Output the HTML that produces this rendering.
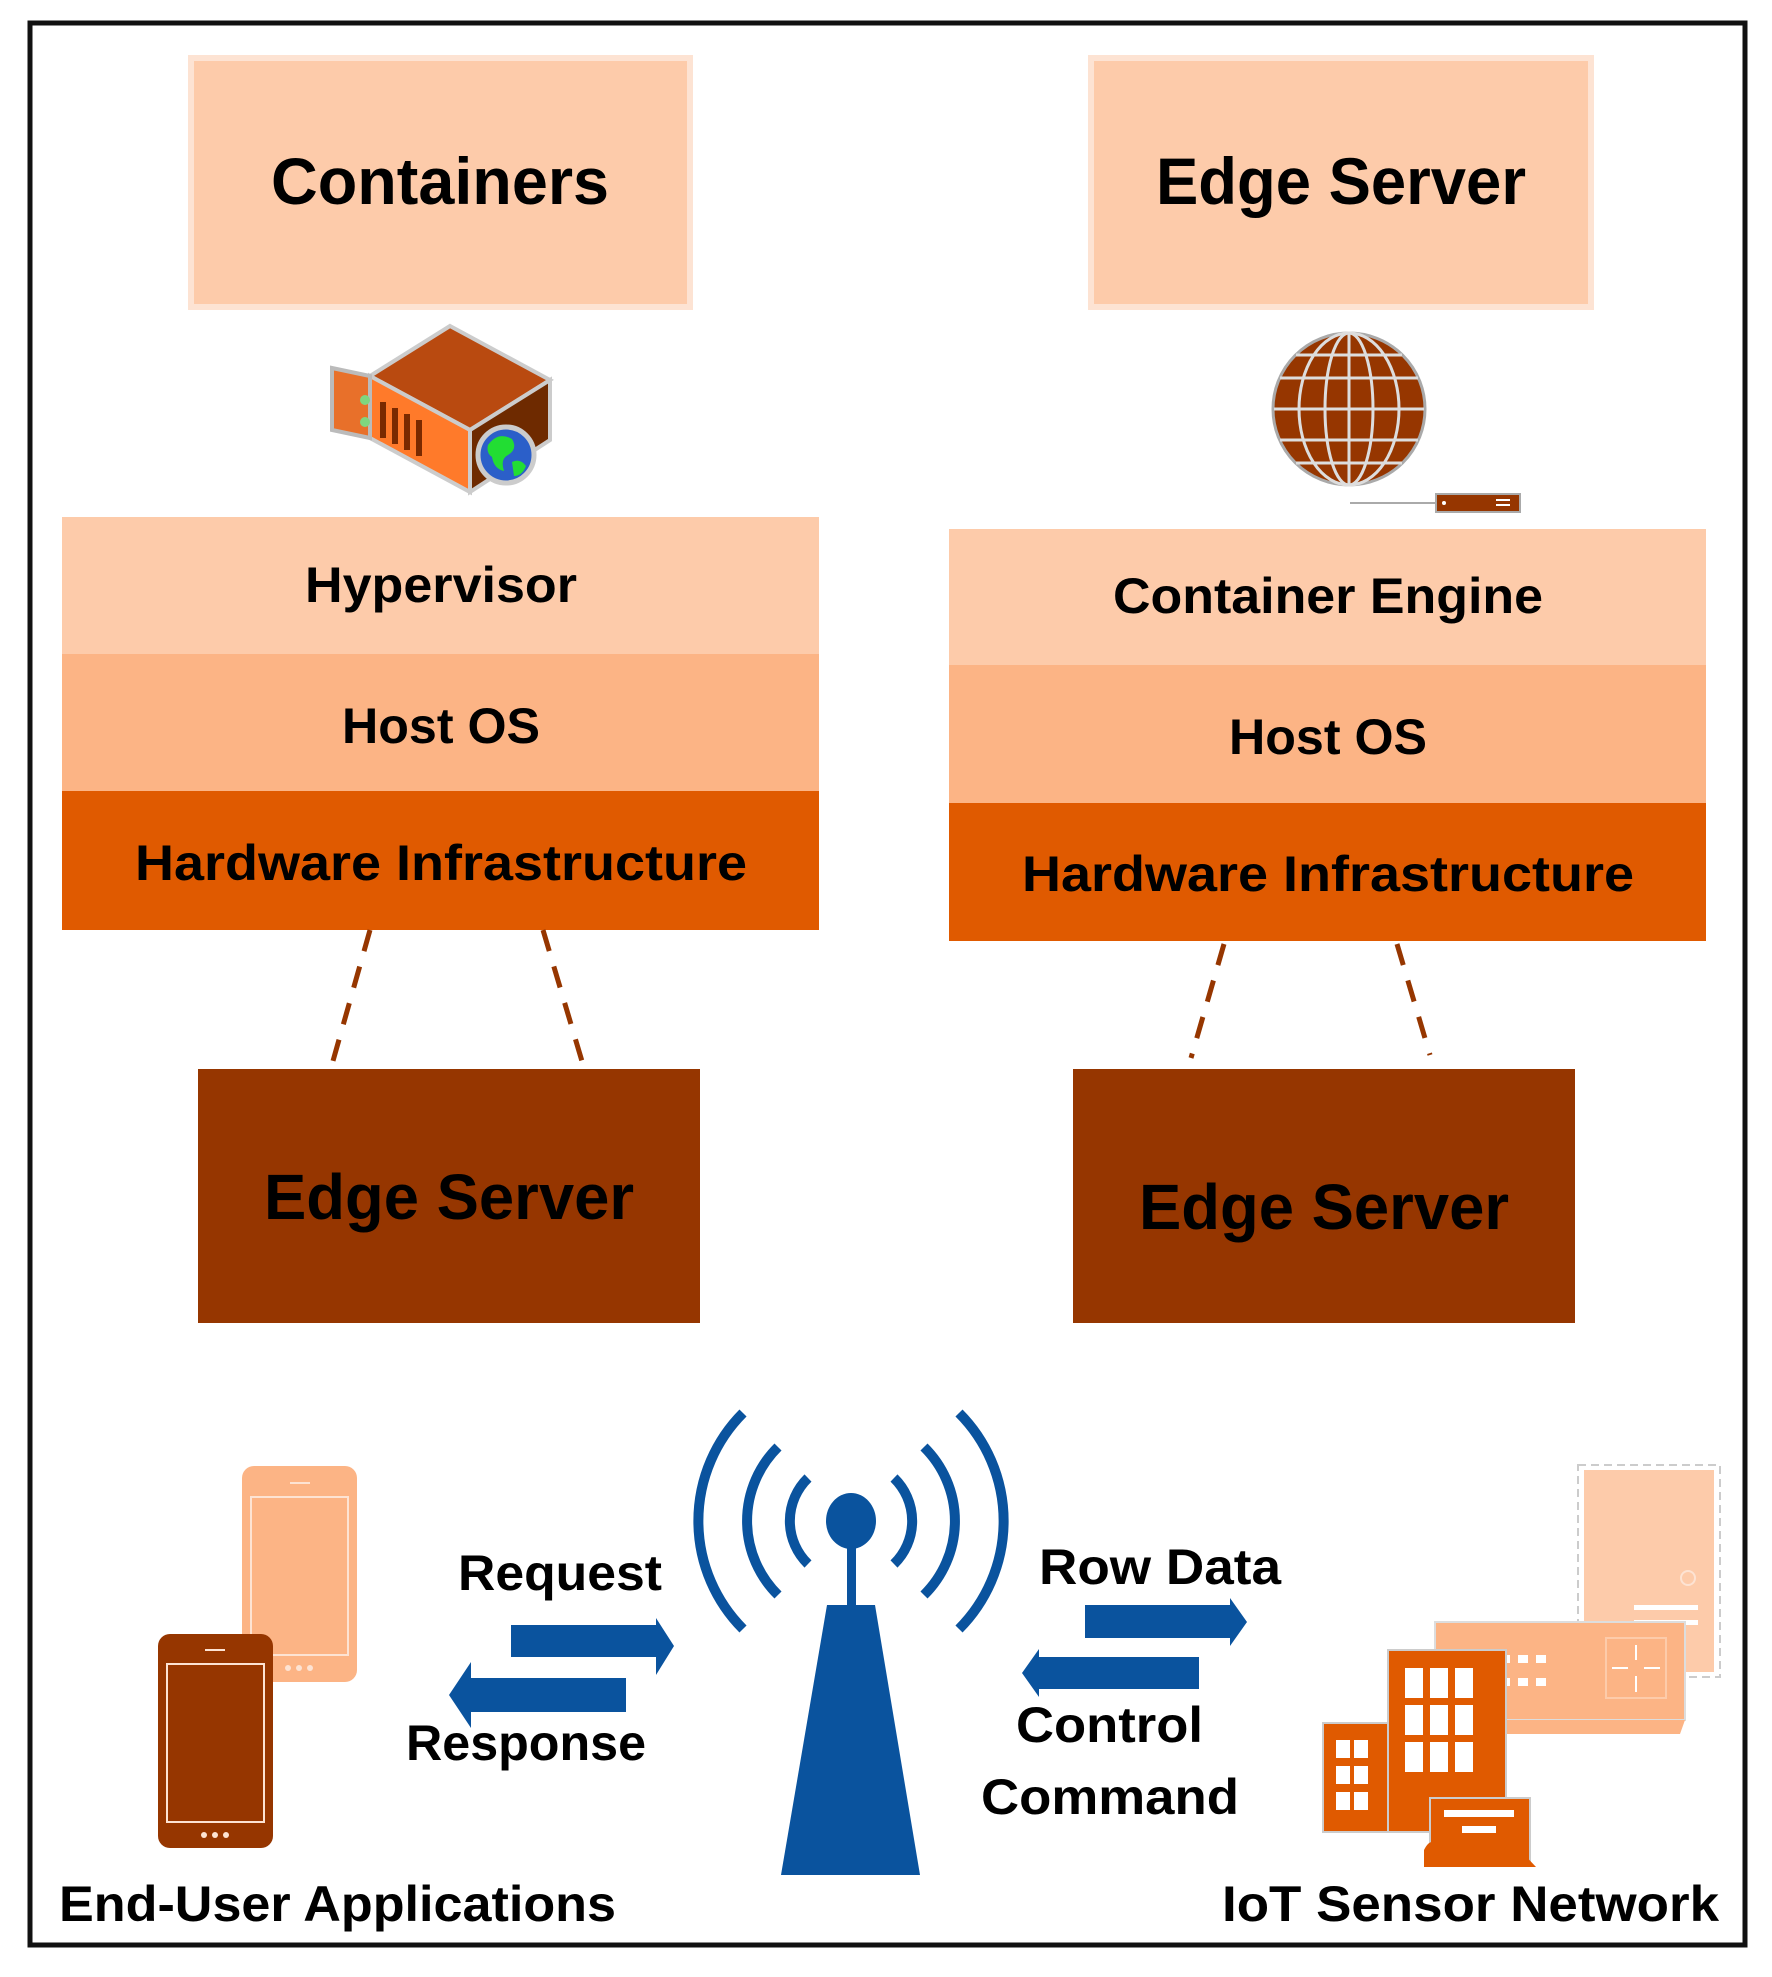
<!DOCTYPE html>
<html><head><meta charset="utf-8"><style>html,body{margin:0;padding:0;background:#fff}svg{display:block}text{font-family:"Liberation Sans",sans-serif;font-weight:bold}</style></head>
<body>
<svg width="1772" height="1977" viewBox="0 0 1772 1977" xmlns="http://www.w3.org/2000/svg">
<rect x="0" y="0" width="1772" height="1977" fill="#fff"/>
<rect x="30" y="23" width="1715" height="1922" fill="none" stroke="#111" stroke-width="5"/>

<!-- top boxes -->
<rect x="191" y="58" width="499" height="249" fill="#fdcbaa" stroke="#fde3d3" stroke-width="6"/>
<text x="440" y="204" font-size="66" text-anchor="middle" textLength="338" lengthAdjust="spacingAndGlyphs">Containers</text>
<rect x="1091" y="58" width="500" height="249" fill="#fdcbaa" stroke="#fde3d3" stroke-width="6"/>
<text x="1341" y="204" font-size="66" text-anchor="middle" textLength="370" lengthAdjust="spacingAndGlyphs">Edge Server</text>

<!-- server icon -->
<g>
<polygon points="450,326 550,380 470,430 370,376" fill="#b94a10" stroke="#ccc" stroke-width="4"/>
<polygon points="370,376 470,430 470,492 370,438" fill="#ff7a2a" stroke="#ccc" stroke-width="4"/>
<polygon points="470,430 550,380 550,440 470,492" fill="#6e2a00" stroke="#ccc" stroke-width="4"/>
<polygon points="332,368 370,376 370,438 332,430" fill="#e8702a" stroke="#bbb" stroke-width="4"/>
<circle cx="365" cy="400" r="5" fill="#7fd67f"/><circle cx="365" cy="422" r="5" fill="#7fd67f"/>
<rect x="380" y="402" width="6" height="36" fill="#7a2a00"/><rect x="392" y="408" width="6" height="36" fill="#7a2a00"/><rect x="404" y="414" width="6" height="36" fill="#7a2a00"/><rect x="416" y="420" width="6" height="36" fill="#7a2a00"/>
<circle cx="506" cy="455" r="28" fill="#2b5fc9" stroke="#ccc" stroke-width="5"/>
<path d="M488,445 q10,-14 24,-6 q6,10 -4,16 q-8,4 -4,16 q-10,-2 -12,-14 q-6,-4 -4,-12z" fill="#22dd33"/>
<path d="M512,462 q8,-4 14,4 q-4,10 -12,10z" fill="#22dd33"/>
</g>

<!-- globe icon -->
<g>
<circle cx="1349" cy="409" r="76" fill="#963600" stroke="#aaa" stroke-width="3"/>
<g fill="none" stroke="#ddd" stroke-width="3">
<ellipse cx="1349" cy="409" rx="50" ry="76"/><ellipse cx="1349" cy="409" rx="24" ry="76"/>
<line x1="1349" y1="333" x2="1349" y2="485"/>
<line x1="1280" y1="378" x2="1418" y2="378"/><line x1="1274" y1="409" x2="1424" y2="409"/><line x1="1280" y1="440" x2="1418" y2="440"/>
<line x1="1296" y1="355" x2="1402" y2="355"/><line x1="1296" y1="463" x2="1402" y2="463"/>
</g>
<line x1="1350" y1="503" x2="1436" y2="503" stroke="#aaa" stroke-width="2"/>
<rect x="1436" y="494" width="84" height="18" fill="#963600" stroke="#aaa" stroke-width="2"/>
<line x1="1496" y1="500" x2="1510" y2="500" stroke="#fff" stroke-width="2"/><line x1="1496" y1="505" x2="1510" y2="505" stroke="#fff" stroke-width="2"/>
<circle cx="1444" cy="503" r="2" fill="#fff"/>
</g>

<!-- left stack -->
<rect x="62" y="517" width="757" height="138" fill="#fdcbaa"/>
<rect x="62" y="654" width="757" height="138" fill="#fcb485"/>
<rect x="62" y="791" width="757" height="139" fill="#e05a00"/>
<text x="441" y="602" font-size="50" text-anchor="middle" textLength="272" lengthAdjust="spacingAndGlyphs">Hypervisor</text>
<text x="441" y="743" font-size="50" text-anchor="middle" textLength="198" lengthAdjust="spacingAndGlyphs">Host OS</text>
<text x="441" y="880" font-size="50" text-anchor="middle" textLength="612" lengthAdjust="spacingAndGlyphs">Hardware Infrastructure</text>

<!-- right stack -->
<rect x="949" y="529" width="757" height="137" fill="#fdcbaa"/>
<rect x="949" y="665" width="757" height="139" fill="#fcb485"/>
<rect x="949" y="803" width="757" height="138" fill="#e05a00"/>
<text x="1328" y="613" font-size="50" text-anchor="middle" textLength="430" lengthAdjust="spacingAndGlyphs">Container Engine</text>
<text x="1328" y="754" font-size="50" text-anchor="middle" textLength="198" lengthAdjust="spacingAndGlyphs">Host OS</text>
<text x="1328" y="891" font-size="50" text-anchor="middle" textLength="612" lengthAdjust="spacingAndGlyphs">Hardware Infrastructure</text>

<!-- dashed connectors -->
<g stroke="#963600" stroke-width="5" stroke-dasharray="22,16" fill="none">
<line x1="370" y1="930" x2="331" y2="1068"/><line x1="543" y1="930" x2="584" y2="1068"/>
<line x1="1224" y1="944" x2="1191" y2="1058"/><line x1="1397" y1="944" x2="1430" y2="1055"/>
</g>

<!-- edge server boxes -->
<rect x="198" y="1069" width="502" height="254" fill="#963600"/>
<text x="449" y="1219" font-size="64" text-anchor="middle" textLength="370" lengthAdjust="spacingAndGlyphs">Edge Server</text>
<rect x="1073" y="1069" width="502" height="254" fill="#963600"/>
<text x="1324" y="1229" font-size="64" text-anchor="middle" textLength="370" lengthAdjust="spacingAndGlyphs">Edge Server</text>

<!-- tower -->
<g fill="#0a539e">
<polygon points="827,1605 875,1605 920,1875 781,1875"/>
<rect x="847" y="1540" width="9" height="66"/>
<ellipse cx="851" cy="1521" rx="25" ry="28"/>
</g>
<g fill="none" stroke="#0a539e" stroke-width="10">
<path d="M808,1478 A60,60 0 0 0 808,1564"/><path d="M894,1478 A60,60 0 0 1 894,1564"/>
<path d="M778,1447 A104,104 0 0 0 778,1595"/><path d="M924,1447 A104,104 0 0 1 924,1595"/>
<path d="M743,1413 A153,153 0 0 0 743,1629"/><path d="M959,1413 A153,153 0 0 1 959,1629"/>
</g>

<!-- arrows -->
<g fill="#0a539e">
<polygon points="511,1625 656,1625 656,1618 674,1646 656,1675 656,1657 511,1657"/>
<polygon points="626,1678 471,1678 471,1662 449,1695 471,1728 471,1712 626,1712"/>
<polygon points="1085,1605 1230,1605 1230,1598 1247,1622 1230,1646 1230,1638 1085,1638"/>
<polygon points="1199,1657 1039,1657 1039,1649 1022,1673 1039,1697 1039,1689 1199,1689"/>
</g>
<text x="458" y="1590" font-size="50" textLength="204" lengthAdjust="spacingAndGlyphs">Request</text>
<text x="406" y="1760" font-size="50" textLength="240" lengthAdjust="spacingAndGlyphs">Response</text>
<text x="1039" y="1584" font-size="50" textLength="242" lengthAdjust="spacingAndGlyphs">Row Data</text>
<text x="1016" y="1742" font-size="50" textLength="187" lengthAdjust="spacingAndGlyphs">Control</text>
<text x="981" y="1814" font-size="50" textLength="258" lengthAdjust="spacingAndGlyphs">Command</text>
<text x="59" y="1921" font-size="50" textLength="557" lengthAdjust="spacingAndGlyphs">End-User Applications</text>
<text x="1222" y="1921" font-size="50" textLength="497" lengthAdjust="spacingAndGlyphs">IoT Sensor Network</text>

<!-- phones -->
<rect x="242" y="1466" width="115" height="216" rx="12" fill="#fcb485"/>
<rect x="251" y="1497" width="97" height="158" fill="none" stroke="#fde3d3" stroke-width="2"/>
<line x1="290" y1="1483" x2="310" y2="1483" stroke="#fde3d3" stroke-width="2"/>
<circle cx="288" cy="1668" r="3" fill="#fde3d3"/><circle cx="299" cy="1668" r="3" fill="#fde3d3"/><circle cx="310" cy="1668" r="3" fill="#fde3d3"/>
<rect x="158" y="1634" width="115" height="214" rx="12" fill="#963600"/>
<rect x="167" y="1664" width="97" height="158" fill="none" stroke="#fde3d3" stroke-width="2"/>
<line x1="205" y1="1650" x2="225" y2="1650" stroke="#fde3d3" stroke-width="2"/>
<circle cx="204" cy="1835" r="3" fill="#fde3d3"/><circle cx="215" cy="1835" r="3" fill="#fde3d3"/><circle cx="226" cy="1835" r="3" fill="#fde3d3"/>

<!-- IoT cluster -->
<rect x="1578" y="1465" width="142" height="212" fill="none" stroke="#ccc" stroke-width="2" stroke-dasharray="8,5"/>
<rect x="1584" y="1470" width="130" height="202" fill="#fdcbaa"/>
<circle cx="1688" cy="1578" r="7" fill="none" stroke="#fde3d3" stroke-width="2"/>
<rect x="1634" y="1605" width="64" height="5" fill="#fff"/><rect x="1634" y="1620" width="64" height="5" fill="#fff"/>
<rect x="1435" y="1622" width="250" height="98" fill="#fcb485" stroke="#ddd" stroke-width="2"/>
<polygon points="1435,1720 1685,1720 1680,1734 1440,1734" fill="#fcb485"/>
<rect x="1606" y="1638" width="60" height="60" fill="none" stroke="#fdcbaa" stroke-width="2"/>
<g stroke="#fff" stroke-width="2"><line x1="1636" y1="1645" x2="1636" y2="1660"/><line x1="1636" y1="1676" x2="1636" y2="1692"/><line x1="1612" y1="1668" x2="1628" y2="1668"/><line x1="1644" y1="1668" x2="1660" y2="1668"/></g>
<g fill="#fff"><rect x="1500" y="1655" width="10" height="8"/><rect x="1518" y="1655" width="10" height="8"/><rect x="1536" y="1655" width="10" height="8"/><rect x="1500" y="1678" width="10" height="8"/><rect x="1518" y="1678" width="10" height="8"/><rect x="1536" y="1678" width="10" height="8"/></g>
<rect x="1388" y="1650" width="118" height="182" fill="#e05a00" stroke="#ccc" stroke-width="2"/>
<g fill="#fff"><rect x="1405" y="1668" width="18" height="30"/><rect x="1430" y="1668" width="18" height="30"/><rect x="1455" y="1668" width="18" height="30"/><rect x="1405" y="1705" width="18" height="30"/><rect x="1430" y="1705" width="18" height="30"/><rect x="1455" y="1705" width="18" height="30"/><rect x="1405" y="1742" width="18" height="30"/><rect x="1430" y="1742" width="18" height="30"/><rect x="1455" y="1742" width="18" height="30"/></g>
<rect x="1323" y="1723" width="65" height="109" fill="#e05a00" stroke="#ccc" stroke-width="2"/>
<g fill="#fff"><rect x="1336" y="1740" width="14" height="18"/><rect x="1354" y="1740" width="14" height="18"/><rect x="1336" y="1766" width="14" height="18"/><rect x="1354" y="1766" width="14" height="18"/><rect x="1336" y="1792" width="14" height="18"/><rect x="1354" y="1792" width="14" height="18"/></g>
<rect x="1430" y="1798" width="100" height="67" fill="#e05a00" stroke="#ccc" stroke-width="2"/>
<rect x="1444" y="1810" width="70" height="7" fill="#fff"/><rect x="1462" y="1826" width="34" height="7" fill="#fff"/>
<path d="M1424,1867 L1424,1850 q8,-16 16,0 q8,-16 16,0 q8,-16 16,0 q8,-16 16,0 q8,-16 16,0 q8,-16 16,0 L1536,1867z" fill="#e05a00"/>
</svg>
</body></html>
